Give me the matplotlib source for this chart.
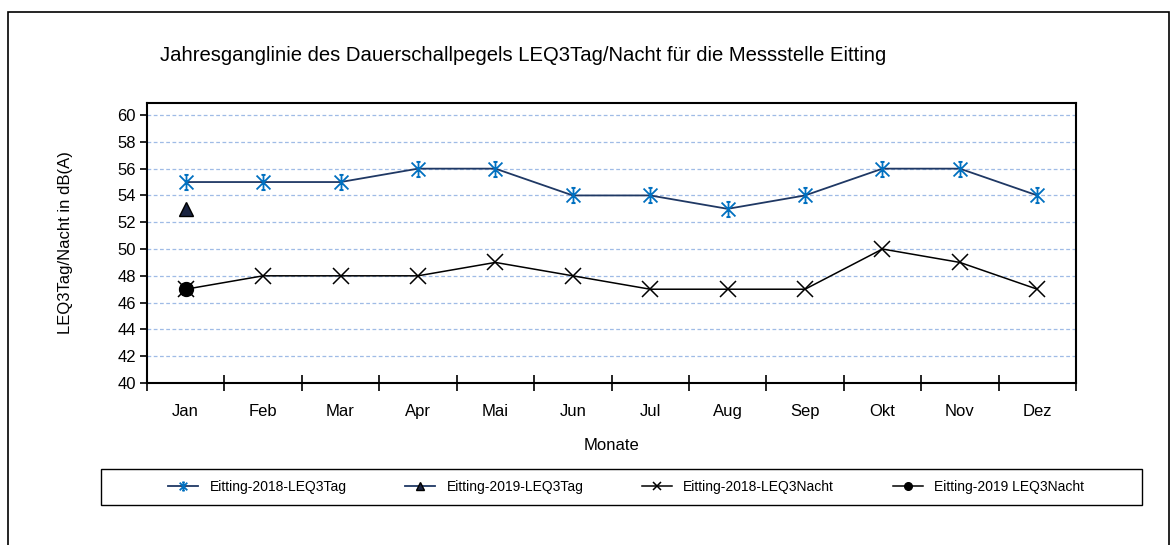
import matplotlib.pyplot as plt
from matplotlib.patches import Rectangle
from matplotlib.path import Path

plt.rcParams['font.family'] = ['Liberation Sans Narrow', 'Liberation Sans', 'DejaVu Sans']

monate = ['Jan', 'Feb', 'Mar', 'Apr', 'Mai', 'Jun', 'Jul', 'Aug', 'Sep', 'Okt', 'Nov', 'Dez']
tag_2018 = [55, 55, 55, 56, 56, 54, 54, 53, 54, 56, 56, 54]
tag_2019 = [53]
nacht_2018 = [47, 48, 48, 48, 49, 48, 47, 47, 47, 50, 49, 47]
nacht_2019 = [47]

# Excel-Stern: X mit senkrechtem Strich
stern = Path([(-1, -1), (1, 1), (-1, 1), (1, -1), (0, -1.1), (0, 1.1),
              (-0.3, 1.1), (0.3, 1.1), (-0.3, -1.1), (0.3, -1.1)],
             [Path.MOVETO, Path.LINETO] * 5)

fig = plt.figure(figsize=(11.72, 5.45), dpi=100)
W, H = 1172, 545
ax = fig.add_axes([147 / W, 1 - 383 / H, (1076 - 147) / W, (383 - 103) / H])

x = list(range(len(monate)))
ax.plot(x, tag_2018, color='#1f3864', lw=1.3, marker=stern, ms=11,
        mec='#0070c0', mfc='none', mew=1.3, label='Eitting-2018-LEQ3Tag')
ax.plot(x[:len(tag_2019)], tag_2019, color='#1f3864', lw=1.3, marker='^', ms=10,
        mec='black', mfc='#1a2340', label='Eitting-2019-LEQ3Tag')
ax.plot(x, nacht_2018, color='black', lw=1.1, marker='x', ms=11, mew=1.1,
        label='Eitting-2018-LEQ3Nacht')
ax.plot(x[:len(nacht_2019)], nacht_2019, color='black', lw=1.1, marker='o', ms=10,
        label='Eitting-2019 LEQ3Nacht')

ax.set_xlim(-0.5, 11.5)
ax.set_ylim(40, 60.9)
ax.set_yticks(range(40, 61, 2))
ax.set_xticks(x)
ax.set_xticklabels(monate, fontsize=12)
ax.set_xticks([i - 0.5 for i in range(13)], minor=True)
ax.tick_params(axis='x', which='major', length=0, pad=15)
ax.tick_params(axis='x', which='minor', direction='inout', length=12, width=1.2)
ax.tick_params(axis='y', direction='out', length=5, width=1.2, labelsize=12, pad=3)
ax.grid(axis='y', color='#9fbbe6', ls='--', lw=0.9, dashes=(3, 2))
ax.set_axisbelow(True)
for s in ax.spines.values():
    s.set_linewidth(1.5)

ax.set_ylabel('LEQ3Tag/Nacht in dB(A)', fontsize=12, labelpad=32)
ax.set_xlabel('Monate', fontsize=12, labelpad=14)

fig.text(160 / W, 1 - 55 / H, 'Jahresganglinie des Dauerschallpegels LEQ3Tag/Nacht für die Messstelle Eitting',
         fontsize=14.6, va='center', ha='left')

leg = fig.legend(loc='center', ncol=4, bbox_to_anchor=(626 / W, 1 - 487 / H),
                 fontsize=10, frameon=False, handlelength=2.2,
                 columnspacing=4.2, markerscale=0.55)

fig.patches.append(Rectangle((101 / W, 1 - 505 / H), (1142 - 101) / W, 36 / H,
                             transform=fig.transFigure, fill=False,
                             edgecolor='black', lw=1.0))
fig.patches.append(Rectangle((8 / W, -0.01), (1169 - 8) / W, 1 - 12 / H + 0.01,
                             transform=fig.transFigure, fill=False,
                             edgecolor='black', lw=1.2))

fig.savefig('out.png', dpi=100)
